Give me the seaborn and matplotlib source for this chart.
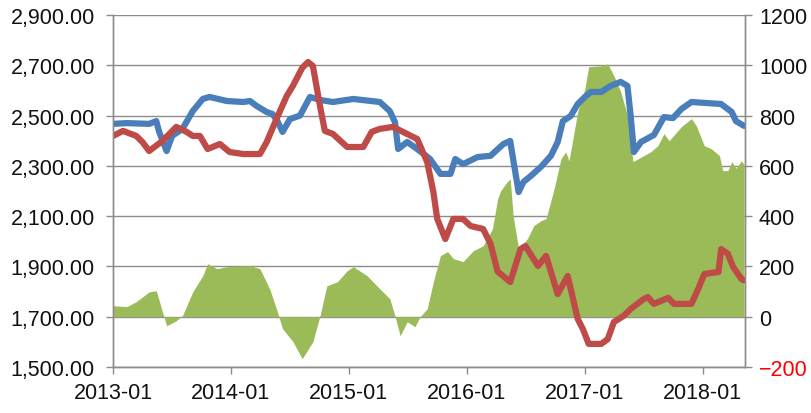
import pandas as pd
import seaborn as sns
import matplotlib.pyplot as plt
import matplotlib.dates as mdates
from matplotlib.ticker import FuncFormatter

# 蓝线（左轴）
blue_dates = ["2013-01-01", "2013-02-13", "2013-04-23", "2013-05-15", "2013-05-24", "2013-06-16",
              "2013-07-03", "2013-08-04", "2013-09-05", "2013-10-06", "2013-10-27", "2013-12-19",
              "2014-02-09", "2014-03-01", "2014-03-22", "2014-04-22", "2014-05-10", "2014-05-25",
              "2014-06-10", "2014-07-03", "2014-08-03", "2014-09-03", "2014-10-04", "2014-11-13",
              "2015-01-15", "2015-04-07", "2015-05-08", "2015-05-24", "2015-06-03", "2015-07-01",
              "2015-08-01", "2015-09-10", "2015-10-12", "2015-11-12", "2015-11-27", "2015-12-21",
              "2016-02-04", "2016-03-15", "2016-04-24", "2016-05-15", "2016-05-24", "2016-06-10",
              "2016-06-25", "2016-07-18", "2016-08-18", "2016-09-18", "2016-10-09", "2016-10-25",
              "2016-11-18", "2016-12-10", "2017-01-01", "2017-01-20", "2017-02-21", "2017-03-22",
              "2017-04-22", "2017-05-13", "2017-05-23", "2017-06-02", "2017-06-24", "2017-08-03",
              "2017-09-03", "2017-10-01", "2017-10-27", "2017-11-27", "2018-02-27", "2018-04-01",
              "2018-04-14", "2018-05-09"]
blue_values = [2467, 2470, 2467, 2478, 2435, 2359,
               2419, 2447, 2518, 2566, 2574, 2558,
               2554, 2558, 2538, 2514, 2506, 2478,
               2435, 2486, 2500, 2574, 2562, 2554,
               2566, 2554, 2518, 2474, 2367, 2395,
               2367, 2327, 2268, 2268, 2327, 2307,
               2335, 2340, 2387, 2399, 2327, 2196,
               2236, 2260, 2296, 2340, 2395, 2478,
               2498, 2546, 2574, 2594, 2594, 2618,
               2634, 2618, 2498, 2355, 2395, 2423,
               2494, 2490, 2526, 2554, 2546, 2514,
               2478, 2459]

# 红线（左轴）
red_dates = ["2013-01-01", "2013-02-01", "2013-03-14", "2013-04-02", "2013-04-23", "2013-06-03",
             "2013-07-16", "2013-08-17", "2013-09-05", "2013-09-27", "2013-10-21", "2013-11-28",
             "2013-12-28", "2014-02-09", "2014-04-01", "2014-04-22", "2014-05-22", "2014-06-23",
             "2014-07-12", "2014-08-10", "2014-08-28", "2014-09-12", "2014-10-04", "2014-10-19",
             "2014-11-13", "2014-12-27", "2015-02-15", "2015-03-13", "2015-04-07", "2015-05-18",
             "2015-06-18", "2015-08-01", "2015-09-01", "2015-09-20", "2015-10-02", "2015-10-27",
             "2015-11-21", "2015-12-21", "2016-01-13", "2016-02-21", "2016-03-15", "2016-04-06",
             "2016-05-15", "2016-06-16", "2016-07-01", "2016-08-09", "2016-09-03", "2016-10-09",
             "2016-11-09", "2016-12-10", "2016-12-26", "2017-01-13", "2017-02-21", "2017-03-13",
             "2017-04-01", "2017-05-01", "2017-05-23", "2017-07-03", "2017-07-15", "2017-08-03",
             "2017-09-16", "2017-10-04", "2017-11-27", "2017-12-18", "2018-01-06", "2018-02-19",
             "2018-02-27", "2018-03-20", "2018-04-05", "2018-05-01", "2018-05-09"]
red_values = [2419, 2439, 2419, 2395, 2359, 2399,
              2455, 2435, 2419, 2419, 2367, 2387,
              2355, 2347, 2347, 2395, 2486, 2578,
              2618, 2690, 2713, 2697, 2538, 2439,
              2427, 2375, 2375, 2435, 2447, 2455,
              2435, 2407, 2315, 2196, 2089, 2009,
              2089, 2089, 2061, 2049, 1990, 1880,
              1838, 1969, 1981, 1902, 1942, 1790,
              1862, 1691, 1651, 1592, 1592, 1611,
              1679, 1703, 1731, 1771, 1778, 1751,
              1775, 1751, 1751, 1810, 1870, 1878,
              1969, 1950, 1898, 1850, 1845]

# 绿色面积（右轴）
green_dates = ["2013-01-01", "2013-02-13", "2013-03-14", "2013-04-23", "2013-05-15", "2013-06-03",
               "2013-06-16", "2013-07-16", "2013-08-04", "2013-09-05", "2013-10-06", "2013-10-21",
               "2013-11-19", "2013-12-19", "2014-03-01", "2014-04-01", "2014-05-01", "2014-05-22",
               "2014-06-10", "2014-07-12", "2014-08-10", "2014-09-12", "2014-10-04", "2014-10-25",
               "2014-11-27", "2014-12-27", "2015-01-15", "2015-02-27", "2015-04-07", "2015-05-08",
               "2015-05-24", "2015-06-09", "2015-07-01", "2015-07-25", "2015-08-10", "2015-09-01",
               "2015-09-20", "2015-10-12", "2015-11-03", "2015-11-21", "2015-12-21", "2016-01-22",
               "2016-02-21", "2016-03-21", "2016-04-06", "2016-04-15", "2016-05-06", "2016-05-15",
               "2016-05-24", "2016-06-10", "2016-07-07", "2016-07-27", "2016-08-18", "2016-09-03",
               "2016-09-28", "2016-10-19", "2016-11-03", "2016-11-13", "2016-12-10", "2017-01-01",
               "2017-01-13", "2017-02-21", "2017-03-13", "2017-04-01", "2017-04-22", "2017-05-13",
               "2017-05-30", "2017-06-15", "2017-07-24", "2017-08-15", "2017-09-03", "2017-09-19",
               "2017-10-27", "2017-11-27", "2017-12-12", "2018-01-06", "2018-01-28", "2018-02-22",
               "2018-03-04", "2018-03-20", "2018-04-01", "2018-04-14", "2018-05-01", "2018-05-09"]
green_values = [44, 40, 60, 99, 103, 20,
                -36, -16, 4, 99, 163, 211,
                191, 199, 203, 191, 111, 32,
                -48, -99, -167, -99, 4, 123,
                139, 183, 199, 163, 111, 72,
                4, -76, -20, -40, 0, 32,
                139, 243, 259, 231, 219, 263,
                282, 350, 469, 500, 537, 549,
                402, 270, 310, 362, 382, 390,
                509, 628, 656, 620, 815, 907,
                994, 998, 1006, 958, 895, 800,
                617, 628, 656, 680, 728, 700,
                756, 788, 760, 680, 668, 640,
                581, 581, 617, 590, 620, 605]

left_ticks = [1500, 1700, 1900, 2100, 2300, 2500, 2700, 2900]
right_ticks = [-200, 0, 200, 400, 600, 800, 1000, 1200]

sns.set_style("white")
plt.rcParams['font.family'] = ['Liberation Sans', 'DejaVu Sans']

df_blue = pd.DataFrame({"date": pd.to_datetime(blue_dates), "value": blue_values})
df_red = pd.DataFrame({"date": pd.to_datetime(red_dates), "value": red_values})
df_green = pd.DataFrame({"date": pd.to_datetime(green_dates), "value": green_values})

fig = plt.figure(figsize=(8.11, 4.14), dpi=100)
ax = fig.add_axes([113 / 811, 1 - 368 / 414, (745 - 113) / 811, (368 - 16) / 414])

sns.lineplot(data=df_blue, x="date", y="value", ax=ax, color="#4A7EBB", lw=4.5,
             solid_capstyle="round", solid_joinstyle="round")
sns.lineplot(data=df_red, x="date", y="value", ax=ax, color="#BE4B48", lw=4.5,
             solid_capstyle="round", solid_joinstyle="round")

ax2 = ax.twinx()
ax2.fill_between(df_green["date"], df_green["value"], 0, color="#9BBB59", lw=0, zorder=2)
ax2.set_ylim(-200, 1200)
ax2.set_yticks(right_ticks)
ax2.grid(axis="y", color="#8c8c8c", lw=1)
ax2.set_axisbelow(True)

# 线画在面积之上
ax.set_zorder(ax2.get_zorder() + 1)
ax.patch.set_visible(False)

ax.set_ylim(1500, 2900)
ax.set_yticks(left_ticks)
ax.yaxis.set_major_formatter(FuncFormatter(lambda v, p: f"{v:,.2f}"))
ax.set_xlim(pd.Timestamp("2013-01-01"), pd.Timestamp("2018-05-12"))
ax.xaxis.set_major_locator(mdates.YearLocator())
ax.xaxis.set_major_formatter(mdates.DateFormatter("%Y-%m"))
ax.set_xlabel("")
ax.set_ylabel("")
ax.grid(False)

for a in (ax, ax2):
    for s in a.spines.values():
        s.set_color("#8c8c8c")
        s.set_linewidth(1)
    a.spines["top"].set_visible(False)

ax.tick_params(axis="both", which="major", length=5, width=1, color="#8c8c8c",
               labelsize=15.5, labelcolor="#111111", direction="out", pad=6)
ax.tick_params(axis="y", pad=8, left=True)
ax.tick_params(axis="x", bottom=True, pad=6)
ax2.tick_params(axis="y", length=5, width=1, color="#8c8c8c", labelsize=15.5,
                labelcolor="#111111", direction="out", pad=5, right=True)
for lbl, v in zip(ax2.get_yticklabels(), right_ticks):
    if v < 0:
        lbl.set_color("#FF0000")

plt.savefig("out.png", dpi=100)
